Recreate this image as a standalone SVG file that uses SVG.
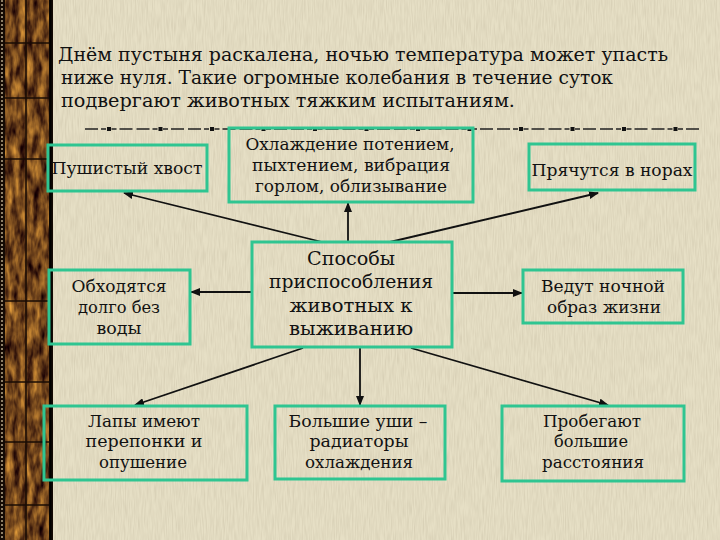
<svg xmlns="http://www.w3.org/2000/svg" width="720" height="540" viewBox="0 0 720 540">
<defs>
<style>
.t{font-family:"DejaVu Serif","Liberation Serif",serif;fill:#111;text-anchor:middle;font-size:17px}
.title{font-family:"DejaVu Serif","Liberation Serif",serif;fill:#111;font-size:18px}
.big{font-size:19px}
.box{fill:none;stroke:#2fc591;stroke-width:3}
.conn{stroke:#111;stroke-width:1.8;fill:none}
.grid{stroke:#1a0c04;stroke-width:1.6}
</style>
<marker id="ah" markerWidth="10" markerHeight="8" refX="9" refY="4" orient="auto" markerUnits="userSpaceOnUse">
<path d="M0,0 L10,4 L0,8 Z" fill="#111"/>
</marker>
<filter id="paper" x="0" y="0" width="100%" height="100%" color-interpolation-filters="sRGB">
<feTurbulence type="fractalNoise" baseFrequency="0.9 0.06" numOctaves="2" seed="7" result="n"/>
<feColorMatrix type="matrix" values="0 0 0 0 0.55  0 0 0 0 0.5  0 0 0 0 0.4  0.3 0 0 0 -0.1"/>
</filter>
<filter id="brown" x="0" y="0" width="100%" height="100%" color-interpolation-filters="sRGB">
<feTurbulence type="fractalNoise" baseFrequency="0.15 0.05" numOctaves="3" seed="4"/>
<feColorMatrix type="matrix" values="1.1 0 0 0 -0.1  0.85 0 0 0 -0.15  0.3 0 0 0 -0.04  0 0 0 0 1"/>
</filter>
</defs>

<rect id="background" x="0" y="0" width="720" height="540" fill="#e6dfc5"/>
<rect x="0" y="0" width="720" height="540" filter="url(#paper)"/>

<g id="left-strip">
<rect x="0" y="0" width="53" height="540" fill="#140a04"/>
<rect x="5" y="0" width="44" height="540" filter="url(#brown)"/>
<line x1="2" y1="0" x2="2" y2="540" stroke="#b8a888" stroke-width="1.5" stroke-dasharray="2 2"/>
<line class="grid" x1="26" y1="0" x2="26" y2="540"/>
<line class="grid" x1="5" y1="43" x2="49" y2="43"/>
<line class="grid" x1="5" y1="98" x2="49" y2="98"/>
<line class="grid" x1="5" y1="159" x2="49" y2="159"/>
<line class="grid" x1="5" y1="301" x2="49" y2="301"/>
<line class="grid" x1="5" y1="382" x2="49" y2="382"/>
<line class="grid" x1="5" y1="442" x2="49" y2="442"/>
<line class="grid" x1="5" y1="505" x2="49" y2="505"/>
<line x1="50.5" y1="0" x2="50.5" y2="540" stroke="#000" stroke-width="2"/>
</g>

<g id="title">
<text class="title" x="58" y="61" textLength="610" lengthAdjust="spacingAndGlyphs">Днём пустыня раскалена, ночью температура может упасть</text>
<text class="title" x="61" y="84" textLength="552" lengthAdjust="spacingAndGlyphs">ниже нуля. Такие огромные колебания в течение суток</text>
<text class="title" x="61" y="107" textLength="454" lengthAdjust="spacingAndGlyphs">подвергают животных тяжким испытаниям.</text>
</g>

<g id="separator">
<line x1="84" y1="129" x2="699" y2="129" stroke="#222" stroke-width="1.5" stroke-dasharray="0 2.5 5 3 13 4 13 3 5 3" stroke-dashoffset="26.5"/>
<g fill="#111">
<rect x="107" y="127" width="4" height="4"/>
<rect x="158.5" y="127" width="4" height="4"/>
<rect x="210" y="127" width="4" height="4"/>
<rect x="261.5" y="127" width="4" height="4"/>
<rect x="313" y="127" width="4" height="4"/>
<rect x="364.5" y="127" width="4" height="4"/>
<rect x="416" y="127" width="4" height="4"/>
<rect x="467.5" y="127" width="4" height="4"/>
<rect x="519" y="127" width="4" height="4"/>
<rect x="570.5" y="127" width="4" height="4"/>
<rect x="622" y="127" width="4" height="4"/>
<rect x="673.5" y="127" width="4" height="4"/>
</g>
</g>

<g id="connectors">
<line class="conn" x1="322" y1="242" x2="124" y2="193" marker-end="url(#ah)"/>
<line class="conn" x1="348" y1="241" x2="348" y2="203" marker-end="url(#ah)"/>
<line class="conn" x1="390" y1="242" x2="598" y2="193" marker-end="url(#ah)"/>
<line class="conn" x1="251" y1="292" x2="191" y2="292" marker-end="url(#ah)"/>
<line class="conn" x1="453" y1="293" x2="522" y2="293" marker-end="url(#ah)"/>
<line class="conn" x1="303" y1="348" x2="135" y2="405" marker-end="url(#ah)"/>
<line class="conn" x1="360" y1="348" x2="360" y2="405" marker-end="url(#ah)"/>
<line class="conn" x1="411" y1="348" x2="608" y2="405" marker-end="url(#ah)"/>
</g>

<g id="node-tail">
<rect class="box" x="48" y="145" width="159" height="46"/>
<text class="t" x="127" y="174" textLength="151" lengthAdjust="spacingAndGlyphs">Пушистый хвост</text>
</g>

<g id="node-cooling">
<rect class="box" x="229" y="128" width="244" height="74"/>
<text class="t" x="350" y="150" textLength="209" lengthAdjust="spacingAndGlyphs">Охлаждение потением,</text>
<text class="t" x="351" y="171" textLength="198" lengthAdjust="spacingAndGlyphs">пыхтением, вибрация</text>
<text class="t" x="351" y="192" textLength="192" lengthAdjust="spacingAndGlyphs">горлом, облизывание</text>
</g>

<g id="node-burrows">
<rect class="box" x="529" y="144" width="166" height="46"/>
<text class="t" x="612" y="176" textLength="161" lengthAdjust="spacingAndGlyphs">Прячутся в норах</text>
</g>

<g id="node-center">
<rect class="box" x="252" y="242" width="200" height="105"/>
<text class="t big" x="351" y="265" textLength="88" lengthAdjust="spacingAndGlyphs">Способы</text>
<text class="t big" x="351" y="288" textLength="164" lengthAdjust="spacingAndGlyphs">приспособления</text>
<text class="t big" x="351" y="312" textLength="123" lengthAdjust="spacingAndGlyphs">животных к</text>
<text class="t big" x="351" y="335" textLength="124" lengthAdjust="spacingAndGlyphs">выживанию</text>
</g>

<g id="node-water">
<rect class="box" x="49" y="270" width="141" height="74"/>
<text class="t" x="119" y="292" textLength="95" lengthAdjust="spacingAndGlyphs">Обходятся</text>
<text class="t" x="119" y="313" textLength="82" lengthAdjust="spacingAndGlyphs">долго без</text>
<text class="t" x="119" y="334" textLength="45" lengthAdjust="spacingAndGlyphs">воды</text>
</g>

<g id="node-night">
<rect class="box" x="523" y="270" width="160" height="53"/>
<text class="t" x="603" y="292" textLength="124" lengthAdjust="spacingAndGlyphs">Ведут ночной</text>
<text class="t" x="604" y="313" textLength="114" lengthAdjust="spacingAndGlyphs">образ жизни</text>
</g>

<g id="node-paws">
<rect class="box" x="44" y="406" width="203" height="74"/>
<text class="t" x="144" y="427" textLength="112" lengthAdjust="spacingAndGlyphs">Лапы имеют</text>
<text class="t" x="144" y="447" textLength="117" lengthAdjust="spacingAndGlyphs">перепонки и</text>
<text class="t" x="143" y="468" textLength="88" lengthAdjust="spacingAndGlyphs">опушение</text>
</g>

<g id="node-ears">
<rect class="box" x="275" y="406" width="170" height="73"/>
<text class="t" x="358" y="427" textLength="139" lengthAdjust="spacingAndGlyphs">Большие уши –</text>
<text class="t" x="359" y="447" textLength="99" lengthAdjust="spacingAndGlyphs">радиаторы</text>
<text class="t" x="359" y="468" textLength="108" lengthAdjust="spacingAndGlyphs">охлаждения</text>
</g>

<g id="node-run">
<rect class="box" x="502" y="406" width="182" height="75"/>
<text class="t" x="592" y="427" textLength="98" lengthAdjust="spacingAndGlyphs">Пробегают</text>
<text class="t" x="591" y="447" textLength="74" lengthAdjust="spacingAndGlyphs">большие</text>
<text class="t" x="593" y="468" textLength="102" lengthAdjust="spacingAndGlyphs">расстояния</text>
</g>
</svg>
